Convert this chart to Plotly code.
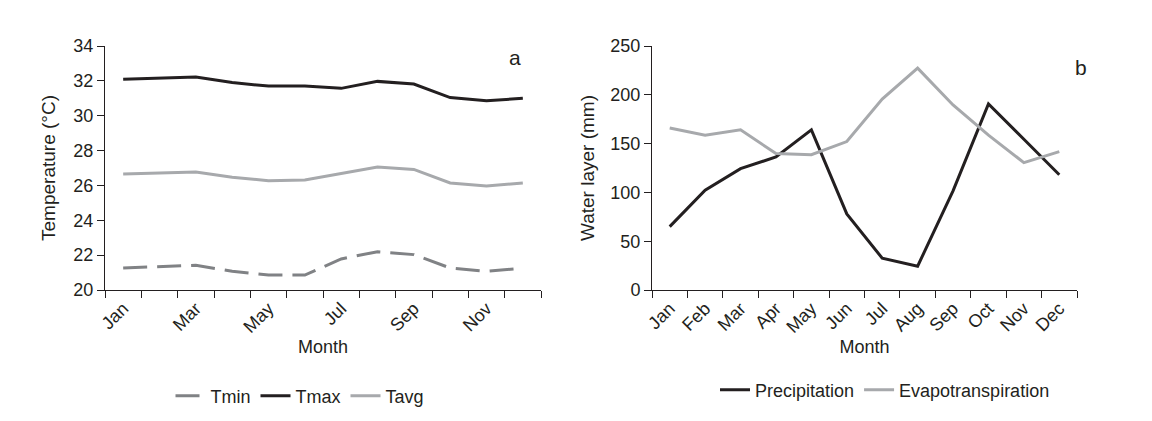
import plotly.graph_objects as go

months = ["Jan", "Feb", "Mar", "Apr", "May", "Jun", "Jul", "Aug", "Sep", "Oct", "Nov", "Dec"]
left_tick_text = ["Jan", "", "Mar", "", "May", "", "Jul", "", "Sep", "", "Nov", ""]

tmin = [21.26, 21.32, 21.42, 21.07, 20.86, 20.86, 21.78, 22.20, 22.03, 21.26, 21.07, 21.26]
tmax = [32.09, 32.15, 32.22, 31.90, 31.70, 31.70, 31.57, 31.97, 31.82, 31.04, 30.86, 31.00]
tavg = [26.66, 26.71, 26.77, 26.47, 26.27, 26.31, 26.68, 27.06, 26.92, 26.14, 25.97, 26.14]

precip = [64.9, 102.3, 124.3, 136.3, 164.1, 78.0, 32.6, 24.4, 101.6, 190.6, 154.5, 118.1]
evapo = [165.9, 158.7, 164.1, 139.8, 138.7, 152.1, 195.7, 227.3, 189.6, 158.7, 130.5, 141.8]

BLACK = "#231f20"
GRAY_LIGHT = "#a7a9ac"
GRAY_MID = "#808285"
FONT = "Liberation Sans, Arial, sans-serif"

fig = go.Figure()
fig.add_trace(go.Scatter(x=months, y=tmin, name="Tmin", mode="lines",
                         line=dict(color=GRAY_MID, width=3, dash="24px,10px"),
                         xaxis="x", yaxis="y", legend="legend"))
fig.add_trace(go.Scatter(x=months, y=tmax, name="Tmax", mode="lines",
                         line=dict(color=BLACK, width=3),
                         xaxis="x", yaxis="y", legend="legend"))
fig.add_trace(go.Scatter(x=months, y=tavg, name="Tavg", mode="lines",
                         line=dict(color=GRAY_LIGHT, width=3),
                         xaxis="x", yaxis="y", legend="legend"))
fig.add_trace(go.Scatter(x=months, y=precip, name="Precipitation", mode="lines",
                         line=dict(color=BLACK, width=3),
                         xaxis="x2", yaxis="y2", legend="legend2"))
fig.add_trace(go.Scatter(x=months, y=evapo, name="Evapotranspiration", mode="lines",
                         line=dict(color=GRAY_LIGHT, width=3),
                         xaxis="x2", yaxis="y2", legend="legend2"))

W, H = 1152, 421
ydom = [1 - 290 / H, 1 - 46 / H]

axis_common = dict(showline=True, linecolor=BLACK, linewidth=1, showgrid=False,
                   zeroline=False, ticks="outside", ticklen=7, tickcolor=BLACK,
                   automargin=False,
                   tickfont=dict(size=18, color=BLACK, family=FONT))

fig.update_layout(
    width=W, height=H,
    margin=dict(l=0, r=0, t=0, b=0, pad=0),
    paper_bgcolor="white", plot_bgcolor="white",
    font=dict(family=FONT, size=18, color=BLACK),
    xaxis=dict(domain=[105 / W, 541 / W], anchor="y", type="category",
               tickmode="array", tickvals=months, ticktext=left_tick_text,
               tickson="boundaries", tickangle=-45,
               title=dict(text="Month", standoff=4, font=dict(size=18, color=BLACK, family=FONT)),
               range=[-0.5, 11.5], **axis_common),
    yaxis=dict(domain=ydom, anchor="x", range=[20, 34], dtick=2,
               title=dict(text="Temperature (°C)", standoff=12, font=dict(size=19, color=BLACK, family=FONT)),
               **axis_common),
    xaxis2=dict(domain=[652 / W, 1077 / W], anchor="y2", type="category",
                tickmode="array", tickvals=months, ticktext=months,
                tickson="boundaries", tickangle=-45,
                title=dict(text="Month", standoff=4, font=dict(size=18, color=BLACK, family=FONT)),
                range=[-0.5, 11.5], **axis_common),
    yaxis2=dict(domain=ydom, anchor="x2", range=[0, 250], dtick=50,
                title=dict(text="Water layer (mm)", standoff=10, font=dict(size=19, color=BLACK, family=FONT)),
                **axis_common),
    legend=dict(orientation="h", x=300 / W, xanchor="center", y=1 - 396 / H, yanchor="middle",
                font=dict(size=18, color=BLACK, family=FONT), bgcolor="rgba(0,0,0,0)",
                itemwidth=30),
    legend2=dict(orientation="h", x=885 / W, xanchor="center", y=1 - 390 / H, yanchor="middle",
                 font=dict(size=18, color=BLACK, family=FONT), bgcolor="rgba(0,0,0,0)",
                 itemwidth=30),
    annotations=[
        dict(text="a", x=515 / W, y=1 - 57 / H, xref="paper", yref="paper",
             xanchor="center", yanchor="middle",
             showarrow=False, font=dict(size=21, color=BLACK, family=FONT)),
        dict(text="b", x=1081 / W, y=1 - 68 / H, xref="paper", yref="paper",
             xanchor="center", yanchor="middle",
             showarrow=False, font=dict(size=21, color=BLACK, family=FONT)),
    ],
)

fig.write_html("out.html", config={"displayModeBar": False},
               post_script="document.body.style.margin='0';")
